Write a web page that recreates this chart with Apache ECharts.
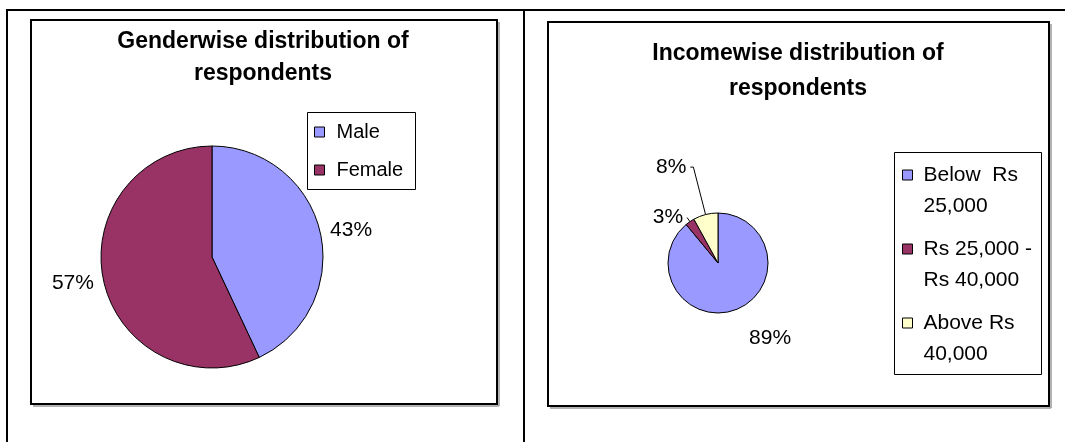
<!DOCTYPE html>
<html>
<head>
<meta charset="utf-8">
<script src="https://cdn.jsdelivr.net/npm/echarts@6/dist/echarts.min.js"></script>
<style>
  html, body { margin: 0; padding: 0; background: #fff; }
  #chart { width: 1065px; height: 442px; }
</style>
</head>
<body>
<div id="chart"></div>
<script>
// ---- Data ----
const genderTitle = 'Genderwise distribution of\nrespondents';
const genderCategories = ['Male', 'Female'];
const genderValues = [43, 57];

const incomeTitle = 'Incomewise distribution of\nrespondents';
const incomeCategories = ['Below  Rs 25,000', 'Rs 25,000 - Rs 40,000', 'Above Rs 40,000'];
const incomeLegendLabels = ['Below  Rs\n25,000', 'Rs 25,000 -\nRs 40,000', 'Above Rs\n40,000'];
const incomeValues = [89, 3, 8];

// ---- Styles ----
const FONT = "'Liberation Sans', Arial, sans-serif";
const genderColors = ['#9999FF', '#993366'];
const incomeColors = ['#9999FF', '#993366', '#FFFFCC'];
const genderLabelLines = [
  { show: false, length: 10, length2: 0 },
  { show: false, length: 10, length2: 0 }
];
const incomeLabelLines = [
  { show: false, length: 30, length2: 0 },
  { show: true, length: 5, length2: 0 },
  { show: true, length: 49, length2: 3 }
];

const chart = echarts.init(document.getElementById('chart'), null, { renderer: 'canvas' });

function line(x1, y1, x2, y2, w, c) {
  return { type: 'line', silent: true, shape: { x1, y1, x2, y2 }, style: { stroke: c || '#000', lineWidth: w } };
}
function box(x, y, w, h, lw) {
  return { type: 'rect', silent: true, shape: { x, y, width: w, height: h }, style: { fill: 'none', stroke: '#000', lineWidth: lw } };
}

const option = {
  animation: false,
  backgroundColor: '#fff',
  title: [
    {
      text: genderTitle, left: 263, top: 26, padding: 0, textAlign: 'center',
      textStyle: { fontFamily: FONT, fontSize: 23, fontWeight: 'bold', color: '#000', lineHeight: 32 }
    },
    {
      text: incomeTitle, left: 798, top: 36, padding: 0, textAlign: 'center',
      textStyle: { fontFamily: FONT, fontSize: 23, fontWeight: 'bold', color: '#000', lineHeight: 35 }
    }
  ],
  legend: [
    {
      data: genderCategories, orient: 'vertical', left: 314, top: 120, padding: 0,
      itemWidth: 10, itemHeight: 10, itemGap: 14, icon: 'rect', selectedMode: false,
      itemStyle: { borderColor: '#000', borderWidth: 1 },
      textStyle: { fontFamily: FONT, fontSize: 20, color: '#000', lineHeight: 24, padding: [0, 0, 0, 7] }
    },
    {
      data: incomeCategories, orient: 'vertical', left: 902, top: 128.5, padding: 0,
      itemWidth: 10, itemHeight: 10, itemGap: -19, icon: 'rect', selectedMode: false,
      itemStyle: { borderColor: '#000', borderWidth: 1 },
      // leading blank line keeps the icon level with the first text line
      formatter: function (name) { return '\n' + incomeLegendLabels[incomeCategories.indexOf(name)]; },
      textStyle: { fontFamily: FONT, fontSize: 21, color: '#000', lineHeight: 31, padding: [0, 0, 0, 6] }
    }
  ],
  graphic: [
    line(6, 10, 1065, 10, 2),
    line(7, 10, 7, 442, 2),
    line(524, 10, 524, 442, 2),
    box(31, 20, 466, 384, 2),
    line(33, 406, 499, 406, 1.5, '#999'),
    line(499, 22, 499, 406, 1.5, '#999'),
    box(548, 22, 501, 384, 2),
    line(550, 408, 1051, 408, 1.5, '#999'),
    line(1051, 24, 1051, 408, 1.5, '#999'),
    box(307.5, 112.5, 108, 77, 1),
    box(894.5, 152.5, 147, 222, 1)
  ],
  series: [
    {
      type: 'pie', center: [212, 257], radius: 111, startAngle: 90, clockwise: true,
      avoidLabelOverlap: false, silent: true, percentPrecision: 0,
      itemStyle: { borderColor: '#000', borderWidth: 1 },
      label: { show: true, position: 'outside', formatter: '{d}%', color: '#000', fontFamily: FONT, fontSize: 21, distanceToLabelLine: 0 },
      labelLine: { show: false },
      emphasis: { disabled: true },
      data: genderCategories.map((n, i) => ({
        name: n, value: genderValues[i], itemStyle: { color: genderColors[i] }, labelLine: genderLabelLines[i]
      }))
    },
    {
      type: 'pie', center: [718, 263], radius: 50, startAngle: 90, clockwise: true,
      avoidLabelOverlap: false, silent: true, percentPrecision: 0,
      itemStyle: { borderColor: '#000', borderWidth: 1 },
      label: { show: true, position: 'outside', formatter: '{d}%', color: '#000', fontFamily: FONT, fontSize: 21, distanceToLabelLine: 4 },
      labelLine: { lineStyle: { color: '#000', width: 1 } },
      emphasis: { disabled: true },
      data: incomeCategories.map((n, i) => ({
        name: n, value: incomeValues[i], itemStyle: { color: incomeColors[i] },
        labelLine: Object.assign({ lineStyle: { color: '#000', width: 1 } }, incomeLabelLines[i])
      }))
    }
  ]
};
chart.setOption(option);
</script>
</body>
</html>
